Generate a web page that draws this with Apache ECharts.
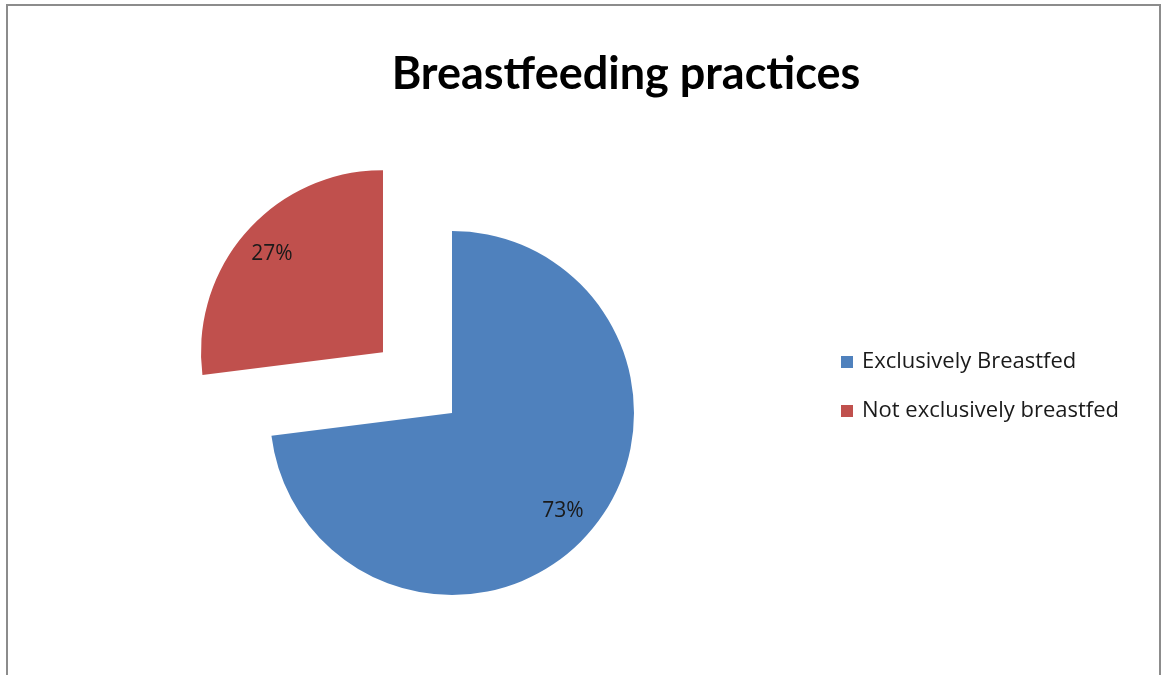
<!DOCTYPE html>
<html>
<head>
<meta charset="utf-8">
<script src="https://cdn.jsdelivr.net/npm/echarts@6/dist/echarts.min.js"></script>
<style>
html,body{margin:0;padding:0;background:#fff;}
#chart{width:1162px;height:675px;}
</style>
</head>
<body>
<div id="chart"></div>
<script>
var categories = ["Exclusively Breastfed", "Not exclusively breastfed"];
var values = [73, 27];
var colors = ["#4F81BD", "#C0504D"];
var explodedIndex = 1;

var pieData = categories.map(function (name, i) {
  return { name: name, value: values[i], selected: i === explodedIndex, itemStyle: { color: colors[i] } };
});
var labelData = categories.map(function (name, i) {
  return { name: name, value: values[i], selected: i === explodedIndex };
});

var chart = echarts.init(document.getElementById('chart'));
chart.setOption({
  animation: false,
  backgroundColor: '#ffffff',
  title: {
    text: 'Breastfeeding practices',
    left: 621, top: 47, textAlign: 'center',
    textStyle: { fontFamily: 'Lato', fontWeight: 'bold', fontSize: 45, color: '#000' }
  },
  legend: {
    orient: 'vertical', left: 841, top: 351, padding: 0,
    itemWidth: 12, itemHeight: 12, itemGap: 27, icon: 'rect',
    data: categories,
    textStyle: { fontFamily: 'Open Sans', fontSize: 22, color: '#1a1a1a', lineHeight: 22, padding: [0, 0, 0, 4] }
  },
  graphic: [{
    type: 'rect', silent: true, z: 100,
    shape: { x: 7, y: 5, width: 1153, height: 720 },
    style: { fill: 'none', stroke: '#8c8c8c', lineWidth: 2 }
  }],
  series: [{
    type: 'pie', name: 'main',
    center: [452, 413], radius: [0, 182],
    startAngle: 90, clockwise: true,
    selectedMode: 'single', selectedOffset: 92,
    label: { show: false }, labelLine: { show: false },
    emphasis: { disabled: true },
    data: pieData
  }, {
    type: 'pie', name: 'labels',
    center: [452, 413], radius: [108, 182],
    startAngle: 90, clockwise: true,
    selectedMode: 'single', selectedOffset: 92,
    silent: true,
    itemStyle: { color: 'rgba(0,0,0,0)' },
    label: { show: true, position: 'inside', formatter: '{c}%', fontFamily: 'Open Sans', fontSize: 21, color: '#1a1a1a' },
    labelLine: { show: false },
    emphasis: { disabled: true },
    data: labelData
  }]
});
</script>
</body>
</html>
